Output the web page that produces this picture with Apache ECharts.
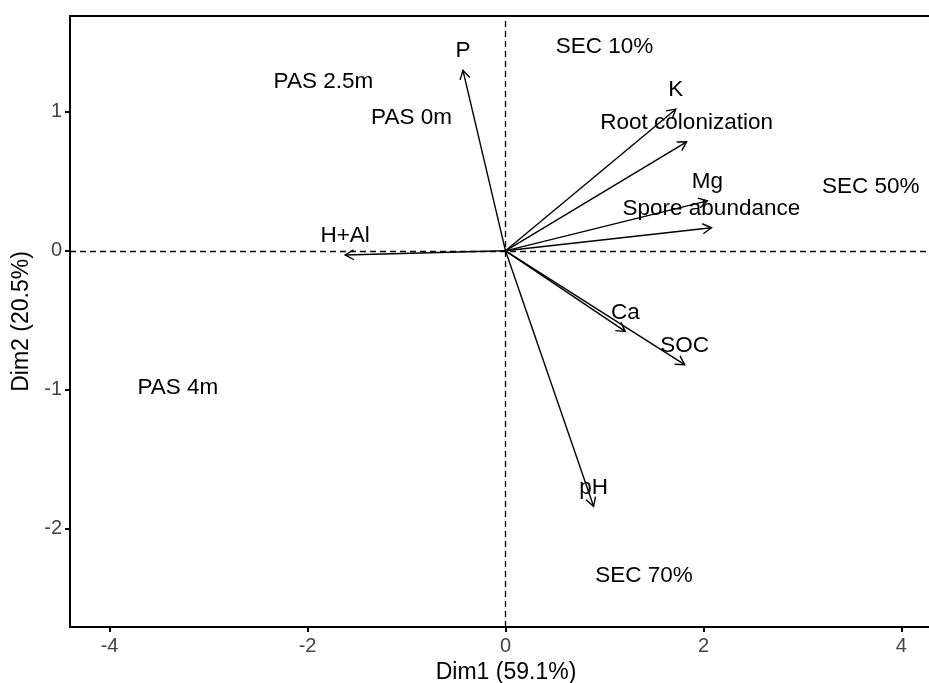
<!DOCTYPE html>
<html>
<head>
<meta charset="utf-8">
<script src="https://cdn.jsdelivr.net/npm/echarts@6/dist/echarts.min.js"></script>
<style>html,body{margin:0;padding:0;background:#fff;overflow:hidden;}#c{width:929px;height:683px;}</style>
</head>
<body>
<div id="c"></div>
<script>
// Variables (arrows)
const varNames = ['P', 'K', 'Root colonization', 'Mg', 'Spore abundance', 'H+Al', 'Ca', 'SOC', 'pH'];
const varX = [-0.43, 1.72, 1.83, 2.04, 2.08, -1.62, 1.21, 1.81, 0.89];
const varY = [1.30, 1.02, 0.785, 0.36, 0.166, -0.03, -0.58, -0.82, -1.84];
// Individuals (text only)
const indNames = ['PAS 0m', 'PAS 2.5m', 'PAS 4m', 'SEC 10%', 'SEC 50%', 'SEC 70%'];
const indX = [-0.95, -1.84, -3.31, 1.00, 3.69, 1.40];
const indY = [0.96, 1.22, -0.99, 1.47, 0.46, -2.34];
// Axis ticks
const xTicks = [-4, -2, 0, 2, 4];
const yTicks = [-2, -1, 0, 1];

const FONT = "'Liberation Sans', Arial, sans-serif";
const chart = echarts.init(document.getElementById('c'), null, {renderer: 'canvas'});

const arrowData = varNames.map((n, i) => [varX[i], varY[i], n]);
const indData = indNames.map((n, i) => [indX[i], indY[i], n]);

const option = {
  backgroundColor: '#fff',
  animation: false,
  grid: {left: 70, top: 16, width: 872, height: 611, containLabel: false, outerBoundsMode: 'none'},
  xAxis: [{
    type: 'value', min: -4.40, max: 4.41, position: 'bottom',
    splitLine: {show: false},
    axisLine: {onZero: false, lineStyle: {color: '#000', width: 2}},
    axisTick: {customValues: xTicks, length: 5, lineStyle: {color: '#000', width: 2}},
    axisLabel: {customValues: xTicks, fontSize: 20, color: '#444', margin: 9, fontFamily: FONT,
      formatter: v => String(v)},
    name: 'Dim1 (59.1%)', nameLocation: 'middle', nameGap: 22,
    nameTextStyle: {fontSize: 23, color: '#000', fontFamily: FONT}
  }, {
    type: 'value', min: -4.40, max: 4.41, position: 'top',
    splitLine: {show: false},
    axisLine: {onZero: false, lineStyle: {color: '#000', width: 2}},
    axisTick: {show: false}, axisLabel: {show: false}
  }],
  yAxis: [{
    type: 'value', min: -2.709, max: 1.691,
    splitLine: {show: false},
    axisLine: {show: true, onZero: false, lineStyle: {color: '#000', width: 2}},
    axisTick: {show: true, customValues: yTicks, length: 5, lineStyle: {color: '#000', width: 2}},
    axisLabel: {customValues: yTicks, fontSize: 20, color: '#444', margin: 8, fontFamily: FONT,
      formatter: v => String(v)},
    name: 'Dim2 (20.5%)', nameLocation: 'middle', nameGap: 31,
    nameTextStyle: {fontSize: 23, color: '#000', fontFamily: FONT}
  }],
  series: [
    {
      type: 'custom', name: 'arrows', xAxisIndex: 0, yAxisIndex: 0, z: 3,
      data: arrowData,
      clip: false,
      renderItem: function (params, api) {
        const p0 = api.coord([0, 0]);
        const p1 = api.coord([api.value(0), api.value(1)]);
        const ang = Math.atan2(p1[1] - p0[1], p1[0] - p0[0]);
        const L = 10, a = Math.PI / 6;
        const h1 = [p1[0] - L * Math.cos(ang - a), p1[1] - L * Math.sin(ang - a)];
        const h2 = [p1[0] - L * Math.cos(ang + a), p1[1] - L * Math.sin(ang + a)];
        return {
          type: 'group',
          children: [
            {type: 'line', shape: {x1: p0[0], y1: p0[1], x2: p1[0], y2: p1[1]},
             style: {stroke: '#000', lineWidth: 1.4}},
            {type: 'polyline', shape: {points: [h1, p1, h2]},
             style: {stroke: '#000', lineWidth: 1.4, fill: null}},
            {type: 'text', x: p1[0], y: p1[1] - 19,
             style: {text: api.value(2), fill: '#000', font: '22.5px ' + FONT, align: 'center', verticalAlign: 'middle'}}
          ]
        };
      },
      markLine: {
        silent: true, symbol: ['none', 'none'], label: {show: false},
        lineStyle: {color: '#000', width: 1.3, type: [6, 4]},
        data: [{xAxis: 0}, {yAxis: 0}],
        z: 1
      }
    },
    {
      type: 'custom', name: 'individuals', xAxisIndex: 0, yAxisIndex: 0, z: 4,
      data: indData, clip: false,
      renderItem: function (params, api) {
        const p = api.coord([api.value(0), api.value(1)]);
        return {type: 'text', x: p[0], y: p[1],
          style: {text: api.value(2), fill: '#000', font: '22.5px ' + FONT, align: 'center', verticalAlign: 'middle'}};
      }
    }
  ]
};
chart.setOption(option);
</script>
</body>
</html>
